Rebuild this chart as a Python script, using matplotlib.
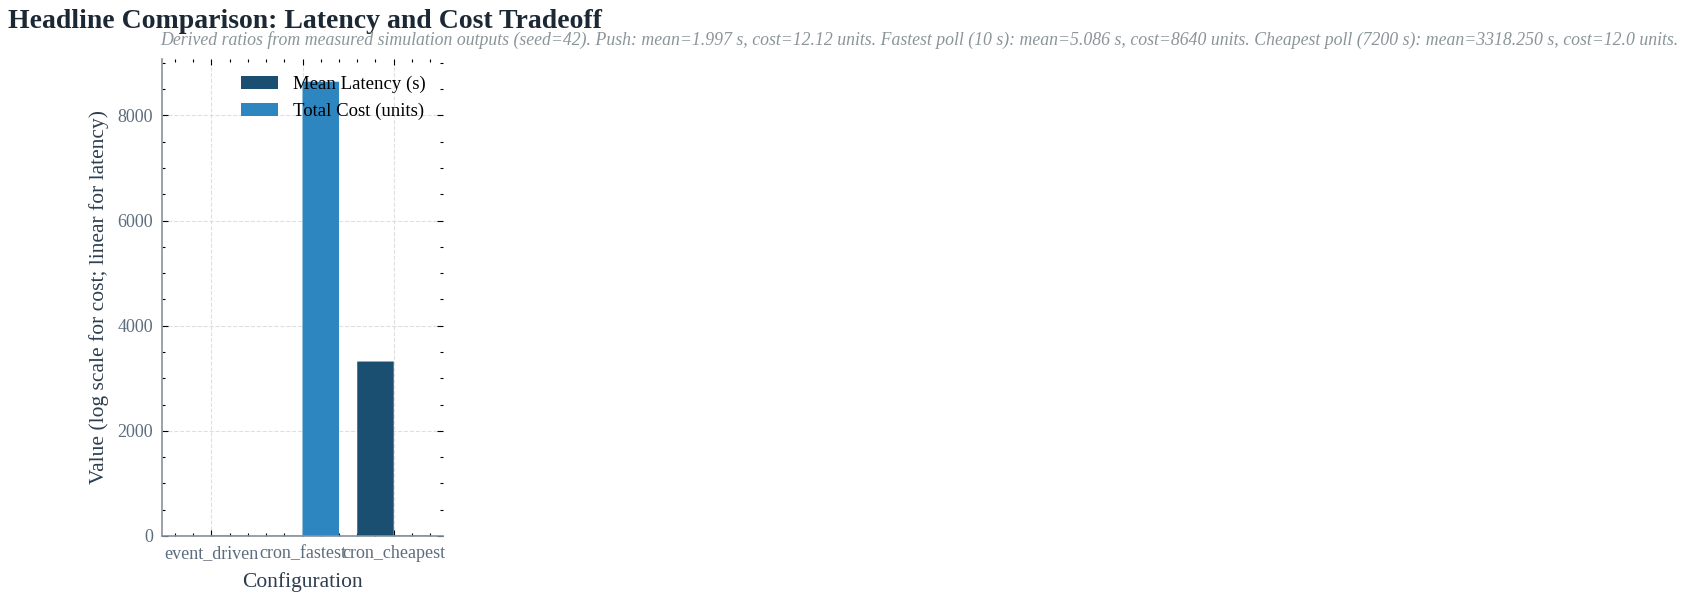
import matplotlib
matplotlib.use("Agg")
import matplotlib.pyplot as plt
import numpy as np
from matplotlib.ticker import AutoMinorLocator

configs = ["event_driven", "cron_fastest", "cron_cheapest"]
mean_latency = [1.997, 5.086, 3318.250]
total_cost = [12.12, 8640.0, 12.0]

title = "Headline Comparison: Latency and Cost Tradeoff"
subtitle = ("Derived ratios from measured simulation outputs (seed=42). "
            "Push: mean=1.997 s, cost=12.12 units. Fastest poll (10 s): mean=5.086 s, cost=8640 units. "
            "Cheapest poll (7200 s): mean=3318.250 s, cost=12.0 units.")

plt.rcParams['font.family'] = ['Liberation Serif', 'DejaVu Serif']

W, H = 1685, 600
fig = plt.figure(figsize=(W / 100, H / 100), dpi=100)
ax = fig.add_axes([162 / W, 1 - 536 / H, (443 - 162) / W, (536 - 59) / H])

x = np.arange(len(configs))
width = 0.4
c_lat = "#1b4f72"
c_cost = "#2e86c1"
b1 = ax.bar(x - width / 2, mean_latency, width, color=c_lat, label="Mean Latency (s)", zorder=2)
b2 = ax.bar(x + width / 2, total_cost, width, color=c_cost, label="Total Cost (units)", zorder=2)
for p in list(b1) + list(b2):
    p.set_snap(False)

ax.set_xticks(x)
ax.set_xticklabels(configs)
ax.xaxis.set_minor_locator(AutoMinorLocator(5))
ax.yaxis.set_minor_locator(AutoMinorLocator(4))
ax.tick_params(which='both', direction='in', top=True, right=True,
               labelsize=13, labelcolor="#5d6d7e", color="black", pad=6.5)
ax.tick_params(which='major', length=4, width=0.8)
ax.tick_params(which='minor', length=2, width=0.8)

for s in ['top', 'right']:
    ax.spines[s].set_visible(False)
for s in ['left', 'bottom']:
    ax.spines[s].set_color("#85929e")
    ax.spines[s].set_linewidth(1.2)
    ax.spines[s].set_zorder(3)

ax.grid(True, which='major', linestyle='--', color="#d5d8dc", linewidth=0.8, alpha=0.8)
ax.set_axisbelow(True)

ax.set_xlabel("Configuration", fontsize=15.5, color="#2c3e50", labelpad=7)
ax.set_ylabel("Value (log scale for cost; linear for latency)", fontsize=15.5,
              color="#2c3e50", labelpad=6)

ax.legend(loc='upper right', frameon=False, fontsize=13.5)

fig.text(8 / W, 1 - 9 / H, title, fontsize=20, fontweight='bold', color="#1c2833",
         ha='left', va='top')
fig.text(1678 / W, 1 - 31 / H, subtitle, fontsize=12.8, style='italic', color="#8a9599",
         ha='right', va='top')

fig.savefig("out.png", dpi=100)
